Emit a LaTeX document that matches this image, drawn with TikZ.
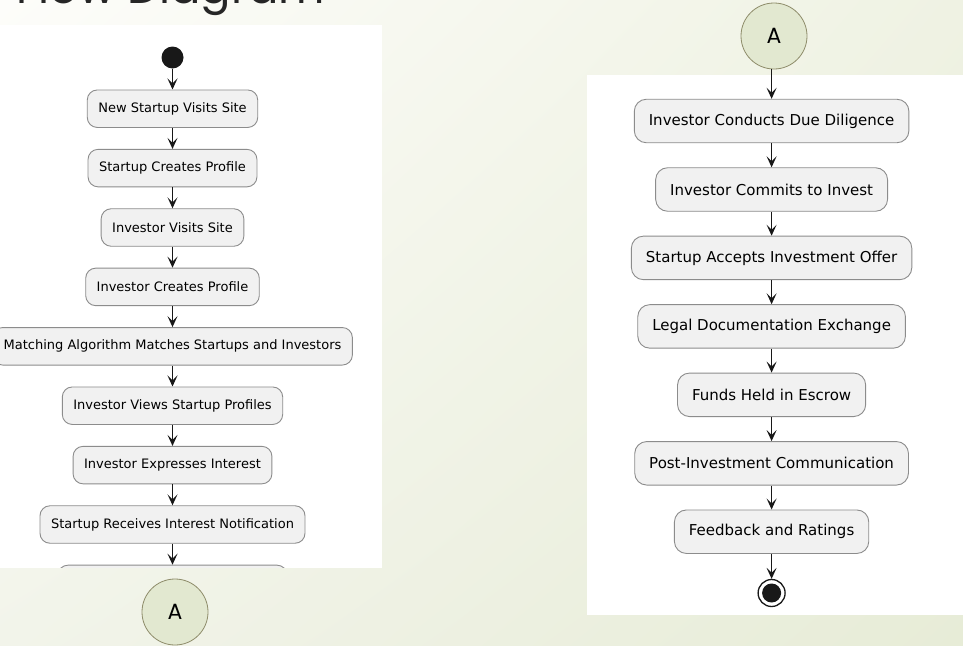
\documentclass[tikz,border=0pt]{standalone}
\usepackage{fontspec}
\setmainfont{DejaVu Sans}
\newfontfamily\titlefont{Poppins}
\usetikzlibrary{arrows.meta,shadings}
\definecolor{bgtl}{HTML}{FDFDFA}
\definecolor{bgtr}{HTML}{EFF2E3}
\definecolor{bgbl}{HTML}{F2F4EA}
\definecolor{bgbr}{HTML}{E7ECD7}
\definecolor{boxfill}{HTML}{F1F1F1}
\definecolor{boxline}{HTML}{8C8C8C}
\definecolor{flowline}{HTML}{181818}
\definecolor{connfill}{HTML}{E2E8D0}
\definecolor{connline}{HTML}{8E8C6A}
\tikzset{act/.style={draw=boxline, fill=boxfill, line width=0.9pt, rounded corners=10pt, minimum height=37.5pt, inner xsep=11pt, inner ysep=0pt, font=\fontsize{13}{15}\selectfont}}
\tikzset{actbig/.style={act, rounded corners=12pt, minimum height=43.5pt, inner xsep=14.5pt, font=\fontsize{15}{18}\selectfont}}
\tikzset{conn/.style={circle, draw=connline, fill=connfill, line width=0.8pt, minimum size=66pt, inner sep=0pt, font=\titlefont\fontsize{22}{24}\selectfont}}
\tikzset{flow/.style={draw=flowline, line width=1.5pt, -{Stealth[length=11pt,width=10pt,inset=5pt]}}}

\begin{document}
\begin{tikzpicture}[x=1pt,y=-1pt]
  \useasboundingbox (0,0) rectangle (963,645);
  \clip (0,0) rectangle (963,645);
  \shade[upper left=bgtl, upper right=bgtr, lower left=bgbl, lower right=bgbr] (0,0) rectangle (963,645);
  \node[anchor=base east, inner sep=0pt, text=black!85, font=\titlefont\fontsize{45}{45}\selectfont] (title) at (325,3.5) {Flow Diagram};
  \fill[white] (0,25) rectangle (382,567.5);
  \fill[white] (587,75) rectangle (963,615);
  \begin{scope}
   \clip (0,25) rectangle (382,567.5);
   \node[circle, fill=flowline, minimum size=22pt, inner sep=0pt] (start) at (172.5, 57.5) {};
   \node[act] (l1) at (172.5, 108.7) {New Startup Visits Site};
   \node[act] (l2) at (172.5, 168.1) {Startup Creates Profile};
   \node[act] (l3) at (172.5, 227.5) {Investor Visits Site};
   \node[act] (l4) at (172.5, 286.9) {Investor Creates Profile};
   \node[act] (l5) at (172.5, 346.3) {Matching Algorithm Matches Startups and Investors};
   \node[act] (l6) at (172.5, 405.7) {Investor Views Startup Profiles};
   \node[act] (l7) at (172.5, 465.1) {Investor Expresses Interest};
   \node[act] (l8) at (172.5, 524.5) {Startup Receives Interest Notification};
   \node[act, minimum width=229pt] (l9) at (172.5, 583.9) {};
  \end{scope}
  \draw[flow] (start) -- (l1);
  \draw[flow] (l1) -- (l2);
  \draw[flow] (l2) -- (l3);
  \draw[flow] (l3) -- (l4);
  \draw[flow] (l4) -- (l5);
  \draw[flow] (l5) -- (l6);
  \draw[flow] (l6) -- (l7);
  \draw[flow] (l7) -- (l8);
  \draw[flow] (l8) -- (l9);
  \node[conn] (connL) at (175.0, 612.0) {A};
  \node[conn] (connR) at (774.0, 36.0) {A};
  \node[actbig] (r1) at (771.6, 121.0) {Investor Conducts Due Diligence};
  \node[actbig] (r2) at (771.6, 189.5) {Investor Commits to Invest};
  \node[actbig] (r3) at (771.6, 257.9) {Startup Accepts Investment Offer};
  \node[actbig] (r4) at (771.6, 326.4) {Legal Documentation Exchange};
  \node[actbig] (r5) at (771.6, 394.8) {Funds Held in Escrow};
  \node[actbig] (r6) at (771.6, 463.3) {Post-Investment Communication};
  \node[actbig] (r7) at (771.6, 531.7) {Feedback and Ratings};
  \node[circle, draw=flowline, fill=white, line width=1.3pt, minimum size=27pt, inner sep=0pt] (stop) at (771.6, 593.0) {};
  \fill[flowline] (stop.center) circle (9.5);
  \draw[flow] (connR.south -| r1.north) -- (r1);
  \draw[flow] (r1) -- (r2);
  \draw[flow] (r2) -- (r3);
  \draw[flow] (r3) -- (r4);
  \draw[flow] (r4) -- (r5);
  \draw[flow] (r5) -- (r6);
  \draw[flow] (r6) -- (r7);
  \draw[flow] (r7) -- (stop);
\end{tikzpicture}
\end{document}
